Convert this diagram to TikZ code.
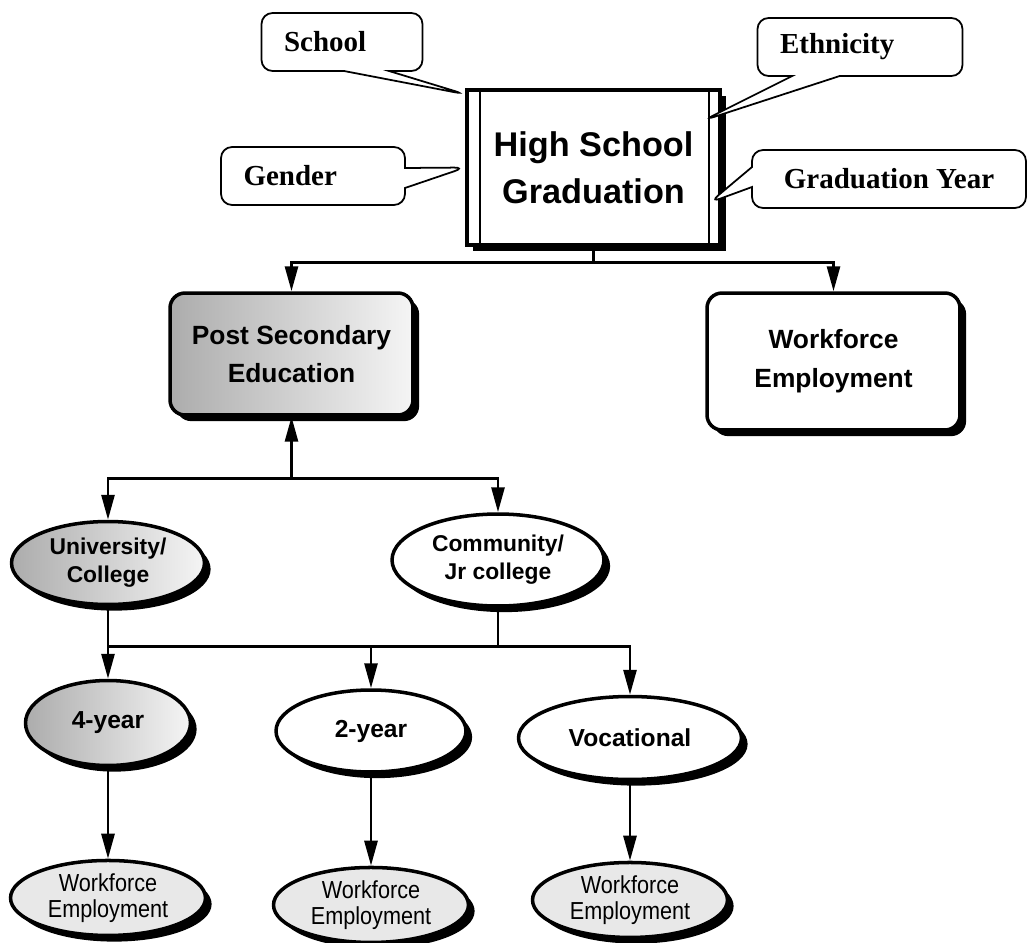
\documentclass[tikz,border=0pt]{standalone}
\usepackage{fontspec}
\setmainfont{Liberation Serif}
\newfontfamily\heavyfont{Liberation Sans}
\newfontfamily\narrowfont[FakeStretch=0.88]{Liberation Sans}
\usetikzlibrary{shapes.geometric, shapes.callouts}
\usetikzlibrary{positioning}
\usetikzlibrary{shadows}
\usetikzlibrary{arrows.meta, calc}

\begin{document}
\begin{tikzpicture} [
    x=0.02cm, y=-0.02cm,
    blackshadow/.style = { drop shadow={shadow xshift=3.5pt, shadow yshift=-3.5pt,
                           fill=black, opacity=1} },
    hsgbox/.style  = { rectangle, draw, line width=2pt, fill=white, blackshadow,
                       minimum width=5.06cm, minimum height=3.1cm, align=center,
                       font=\heavyfont\bfseries\fontsize{19.5}{27}\selectfont },
    block/.style   = { rectangle, draw, line width=2pt, fill=white, blackshadow,
                       rounded corners=0.3cm, align=center,
                       font=\heavyfont\bfseries\fontsize{15}{22}\selectfont },
    note/.style    = { rectangle callout, draw, line width=1pt, fill=white,
                       rounded corners=0.22cm, inner xsep=0.45cm, align=left,
                       minimum height=1.16cm,
                       font=\bfseries\fontsize{16.5}{20}\selectfont },
    oval/.style    = { ellipse, draw, line width=2pt, fill=white, blackshadow,
                       inner sep=0pt, align=center,
                       font=\heavyfont\bfseries\fontsize{13}{16}\selectfont },
    result/.style  = { oval, fill=gray!18, minimum width=3.9cm, minimum height=1.5cm,
                       font=\narrowfont\fontsize{14}{14.5}\selectfont },
    dark/.style    = { left color=gray!65, right color=gray!8 },
    line/.style    = { draw, line width=1.6pt, -{Triangle[length=5mm,width=2.6mm]} },
  ]
  \path [fill=white, use as bounding box] (0,0) rectangle (1028,943) ;

  \node (hsg) [hsgbox] at (593.5,167.5) {High School\\Graduation} ;
  \draw [line width=1.2pt] ($(hsg.north west)+(15,0)$) -- ($(hsg.south west)+(15,0)$) ;
  \draw [line width=1.2pt] ($(hsg.north east)+(-13,0)$) -- ($(hsg.south east)+(-13,0)$) ;

  % notes round the top box
  \node (school) [note, text width=2.32cm, callout pointer width=0.9cm,
    callout absolute pointer={($(hsg.north west)+(0,6)$)}] at (342,42) {School} ;
  \node (ethnic) [note, text width=3.2cm, callout pointer width=0.95cm,
    callout absolute pointer={($(hsg.north east)+(-18,32)$)}] at (860,47) {Ethnicity} ;
  \node (gender) [note, text width=2.78cm, callout pointer width=0.4cm,
    callout absolute pointer={(hsg.west)}] at (313,176) {Gender} ;
  \node (gradyear) [note, align=center, inner xsep=0.3cm, minimum width=5.48cm,
    callout pointer width=0.4cm,
    callout absolute pointer={($(hsg.east)+(-12,35)$)}] at (889,179) {Graduation Year} ;

  \node (pse) [block, dark, minimum width=4.86cm, minimum height=2.44cm]
    at (291.5,354) {Post Secondary\\Education} ;
  \node (wfe) [block, minimum width=5.06cm, minimum height=2.74cm]
    at (833.5,361.5) {Workforce\\Employment} ;

  \node (uni) [oval, dark, minimum width=3.86cm, minimum height=1.66cm]
    at (108,563) {University/\\College} ;
  \node (comm) [oval, minimum width=4.24cm, minimum height=1.84cm]
    at (498,560) {Community/\\Jr college} ;

  \node (four) [oval, dark, font=\heavyfont\bfseries\fontsize{14}{16}\selectfont,
    minimum width=3.3cm, minimum height=1.7cm] at (108,723) {4-year} ;
  \node (two) [oval, font=\heavyfont\bfseries\fontsize{14}{16}\selectfont,
    minimum width=3.8cm, minimum height=1.64cm] at (371,731) {2-year} ;
  \node (voc) [oval, font=\heavyfont\bfseries\fontsize{14}{16}\selectfont,
    minimum width=4.46cm, minimum height=1.66cm] at (630,738) {Vocational} ;

  \node (we1) [result, below of=four, node distance=3.5cm] {Workforce\\Employment} ;
  \node (we2) [result, below of=two, node distance=3.48cm] {Workforce\\Employment} ;
  \node (we3) [result, below of=voc, node distance=3.24cm] {Workforce\\Employment} ;

  \coordinate (top split) at ($(hsg.south)+(0,16)$) ;
  \coordinate (mid split) at ($(pse.south)+(0,62)$) ;
  \coordinate (low split) at ($(comm.south)+(0,39)$) ;

  % connect nodes
  \begin{scope}[every path/.style=line]
  \path (top split) -| (pse) ;
  \path (top split) -| (wfe) ;
  \path (mid split) -- (pse) ;
  \path (mid split) -| (uni) ;
  \path (mid split) -| (comm) ;
  \path (uni) -- (four) ;
  \path (low split) -| (two) ;
  \path (low split) -| (voc) ;
  \path (four) -- (we1) ;
  \path (two) -- (we2) ;
  \path (voc) -- (we3) ;
  \end{scope}
  \draw [line width=1.6pt] (hsg) -- (top split) ;
  \draw [line width=1.6pt] (comm) -- (low split) ;
  \draw [line width=1.6pt] (low split) -- (low split -| four) ;

\end{tikzpicture}
\end{document}
